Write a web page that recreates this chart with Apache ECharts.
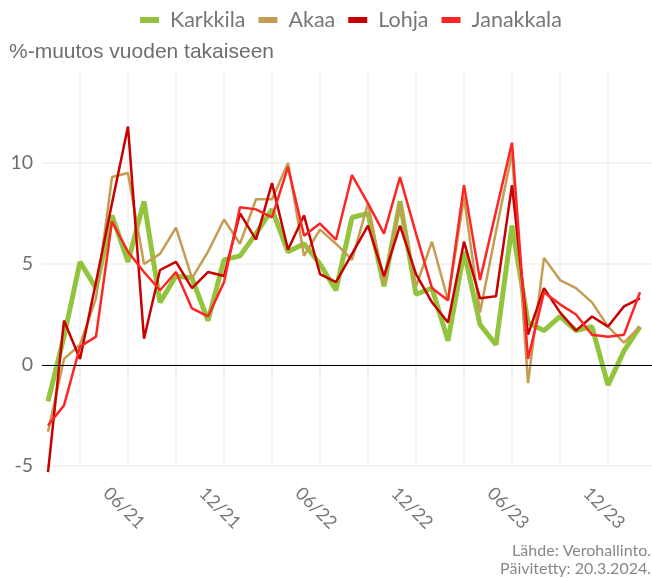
<!DOCTYPE html>
<html>
<head>
<meta charset="utf-8">
<script src="https://cdn.jsdelivr.net/npm/echarts@6/dist/echarts.min.js"></script>
<style>
  html, body { margin: 0; padding: 0; background: #fff; }
  #chart { width: 652px; height: 578px; }
</style>
</head>
<body>
<div id="chart"></div>
<script>
// kuukaudet 01/21 - 02/24
const months = [
  '01/21', '02/21', '03/21', '04/21', '05/21', '06/21', '07/21', '08/21', '09/21', '10/21', '11/21', '12/21',
  '01/22', '02/22', '03/22', '04/22', '05/22', '06/22', '07/22', '08/22', '09/22', '10/22', '11/22', '12/22',
  '01/23', '02/23', '03/23', '04/23', '05/23', '06/23', '07/23', '08/23', '09/23', '10/23', '11/23', '12/23',
  '01/24', '02/24'
]

const karkkila = [
  -1.8, 1.4, 5.1, 3.8, 7.4, 5.1, 8.1, 3.1, 4.4, 4.3, 2.2, 5.2,
  5.4, 6.5, 7.7, 5.6, 6.0, 5.0, 3.7, 7.3, 7.5, 3.9, 8.1, 3.5,
  3.8, 1.2, 5.6, 2.0, 1.0, 6.9, 2.1, 1.7, 2.4, 1.7, 1.9, -1.0,
  0.7, 1.9
]
const akaa = [
  -3.3, 0.3, 1.0, 3.3, 9.3, 9.5, 5.0, 5.5, 6.8, 4.3, 5.6, 7.2,
  6.0, 8.2, 8.2, 10.0, 5.4, 6.7, 6.0, 5.2, 8.0, 4.0, 8.0, 3.9,
  6.1, 3.2, 8.3, 2.6, 6.6, 10.5, -0.9, 5.3, 4.2, 3.8, 3.1, 1.9,
  1.1, 1.9
]
const lohja = [
  -5.3, 2.2, 0.3, 4.1, 8.0, 11.8, 1.3, 4.7, 5.1, 3.8, 4.6, 4.4,
  7.5, 6.2, 9.0, 5.7, 7.4, 4.5, 4.1, 5.5, 6.9, 4.4, 6.9, 4.5,
  3.1, 2.1, 6.1, 3.3, 3.4, 8.9, 1.5, 3.8, 2.6, 1.7, 2.4, 1.9,
  2.9, 3.3
]
const janakkala = [
  -3.0, -2.0, 0.9, 1.4, 7.1, 5.6, 4.6, 3.7, 4.6, 2.8, 2.4, 4.1,
  7.8, 7.7, 7.3, 9.8, 6.4, 7.0, 6.2, 9.4, 8.0, 6.5, 9.3, 6.5,
  3.8, 3.2, 8.9, 4.2, 7.6, 11.0, 0.3, 3.6, 3.0, 2.5, 1.5, 1.4,
  1.5, 3.6
]

const yTicks = [-5, 0, 5, 10]

// pystyviivat neljännesvuosittain, tekstit kesä- ja joulukuulle
const quarterIdx = months.map((m, i) => i).filter(i => ['03', '06', '09', '12'].includes(months[i].slice(0, 2)))
const labelIdx = months.map((m, i) => i).filter(i => ['06', '12'].includes(months[i].slice(0, 2)))

const gridColor = '#efefef'
const textColor = '#6e6e6e'

const chart = echarts.init(document.getElementById('chart'))

function mkSeries(name, values, color, width) {
  return {
    name: name,
    type: 'line',
    data: values.map((v, i) => [i, v]),
    showSymbol: false,
    clip: false,
    lineStyle: { color: color, width: width },
    itemStyle: { color: color },
    animation: false
  }
}

const series = [
  mkSeries('Karkkila', karkkila, '#93c43e', 5),
  mkSeries('Akaa', akaa, '#c49c52', 2.5),
  mkSeries('Lohja', lohja, '#c90000', 2.5),
  mkSeries('Janakkala', janakkala, '#fe2525', 2.5)
]
series[0].markLine = {
  silent: true,
  symbol: ['none', 'none'],
  label: { show: false },
  lineStyle: { color: '#000', width: 1.2, type: 'solid' },
  data: [{ yAxis: 0 }],
  animation: false
}

chart.setOption({
  animation: false,
  legend: {
    top: 4,
    left: 135,
    icon: 'rect',
    itemWidth: 19,
    itemHeight: 6,
    itemGap: 13,
    textStyle: {
      color: '#777',
      fontFamily: 'Lato',
      fontSize: 21.5,
      padding: [0, 0, 0, 6]
    },
    data: ['Karkkila', 'Akaa', 'Lohja', 'Janakkala']
  },
  title: [{
    text: '%-muutos vuoden takaiseen',
    left: 9,
    top: 42,
    padding: 0,
    textStyle: { color: textColor, fontFamily: 'Liberation Sans', fontSize: 21, fontWeight: 'normal' }
  }, {
    text: 'Lähde: Verohallinto.',
    right: 1,
    top: 543,
    padding: 0,
    textStyle: { color: '#888', fontFamily: 'Lato', fontSize: 16, fontWeight: 'normal' }
  }, {
    text: 'Päivitetty: 20.3.2024.',
    right: 1,
    top: 561,
    padding: 0,
    textStyle: { color: '#888', fontFamily: 'Lato', fontSize: 16, fontWeight: 'normal' }
  }],
  grid: {
    left: 42,
    right: 0,
    top: 74,
    bottom: 112,
    containLabel: false
  },
  xAxis: {
    type: 'value',
    min: -0.375,
    max: months.length - 1 + 0.75,
    axisLine: { show: false },
    axisTick: {
      show: true,
      length: 6,
      customValues: quarterIdx,
      lineStyle: { color: gridColor, width: 1.5 }
    },
    splitLine: { show: true, lineStyle: { color: gridColor, width: 1.5 } },
    axisLabel: {
      customValues: labelIdx,
      formatter: v => months[Math.round(v)],
      rotate: -45,
      align: 'center',
      verticalAlign: 'middle',
      margin: 46,
      padding: [7, 11, 0, 0],
      color: '#777',
      fontFamily: 'Lato',
      fontSize: 18
    }
  },
  yAxis: {
    type: 'value',
    min: -5,
    max: 14.4,
    interval: 5,
    axisLine: { show: false },
    axisTick: { show: false },
    splitLine: { show: true, lineStyle: { color: [gridColor, gridColor, gridColor, gridColor, 'rgba(0,0,0,0)'], width: 1.5 } },
    axisLabel: {
      showMaxLabel: false,
      formatter: v => (yTicks.includes(v) ? String(v) : ''),
      margin: 9,
      color: textColor,
      fontFamily: 'Lato',
      fontSize: 19.5
    }
  },
  series: series
})
</script>
</body>
</html>
